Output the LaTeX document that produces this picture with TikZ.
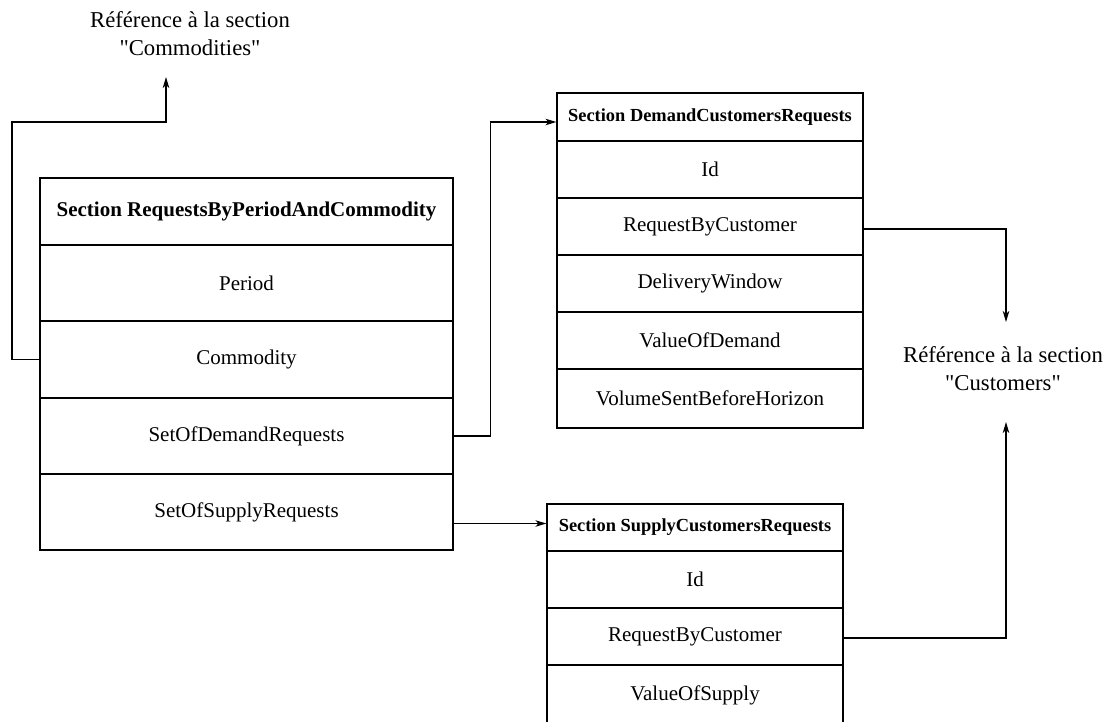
\documentclass[tikz,border=0pt]{standalone}
\usepackage{fontspec}
\setmainfont{Liberation Serif}
% a copy of the serif without the TeX quote mapping, for straight quotes
\newfontfamily\qfont{Liberation Serif}
\usetikzlibrary{arrows.meta}
\newcommand{\dq}{{\qfont"}}
\begin{document}
\begin{tikzpicture}[x=1pt,y=-1pt,
  row/.style={draw,line width=1.2pt,rectangle,inner sep=0pt,font=\fontsize{21}{23}\selectfont},
  hdr/.style={row,font=\fontsize{21}{23}\selectfont\bfseries},
  shdr/.style={row,font=\fontsize{18.4}{20}\selectfont\bfseries},
  link/.style={line width=1.3pt},
  arr/.style={link,-{Stealth[length=11pt,width=6.5pt,inset=3pt]}},
  reftext/.style={align=center,font=\fontsize{22.7}{28}\selectfont}]
\useasboundingbox (0,0) rectangle (1111,721);

% Section RequestsByPeriodAndCommodity
\node[hdr,minimum width=413pt,minimum height=67pt] (m1) at (246.5,211.5) {Section RequestsByPeriodAndCommodity};
\node[row,minimum width=413pt,minimum height=76pt] (m2) at (246.5,283) {Period};
\node[row,minimum width=413pt,minimum height=77pt] (m3) at (246.5,359.5) {Commodity};
\node[row,minimum width=413pt,minimum height=76pt] (m4) at (246.5,436) {SetOfDemandRequests};
\node[row,minimum width=413pt,minimum height=76pt] (m5) at (246.5,512) {SetOfSupplyRequests};

% Section DemandCustomersRequests
\node[shdr,minimum width=306pt,minimum height=48pt] (d1) at (710,117) {Section DemandCustomersRequests};
\node[row,minimum width=306pt,minimum height=57pt] (d2) at (710,169.5) {Id};
\node[row,minimum width=306pt,minimum height=57pt] (d3) at (710,226.5) {RequestByCustomer};
\node[row,minimum width=306pt,minimum height=57pt] (d4) at (710,283.5) {DeliveryWindow};
\node[row,minimum width=306pt,minimum height=57pt] (d5) at (710,340.5) {ValueOfDemand};
\node[row,minimum width=306pt,minimum height=59pt] (d6) at (710,398.5) {VolumeSentBeforeHorizon};

% Section SupplyCustomersRequests
\node[shdr,minimum width=296pt,minimum height=47pt] (s1) at (695,527.5) {Section SupplyCustomersRequests};
\node[row,minimum width=296pt,minimum height=57pt] (s2) at (695,579.5) {Id};
\node[row,minimum width=296pt,minimum height=57pt] (s3) at (695,636.5) {RequestByCustomer};
\node[row,minimum width=296pt,minimum height=60pt] (s4) at (695,695) {ValueOfSupply};

% External references
\node[reftext] (refcom) at (190,34) {Référence à la section\\\dq Commodities\dq};
\node[reftext] (refcus) at (1003,369) {Référence à la section\\\dq Customers\dq};
\coordinate (comtip) at (166,77);
\coordinate (custop) at (1006,322);
\coordinate (cusbot) at (1006,422);

% Connectors
\draw[arr] (m3.west) -- (12,359.5) -- (12,122) -| (comtip);
\draw[arr] (m4.east) -- ++(37,0) |- ([yshift=-5pt]d1.west);
\draw[arr] ([yshift=4pt]s1.west -| m5.east) -- ([yshift=4pt]s1.west);
\draw[arr] ([yshift=-2.5pt]d3.east) -| (custop);
\draw[arr] ([yshift=-1.5pt]s3.east) -| (cusbot);
\end{tikzpicture}
\end{document}
